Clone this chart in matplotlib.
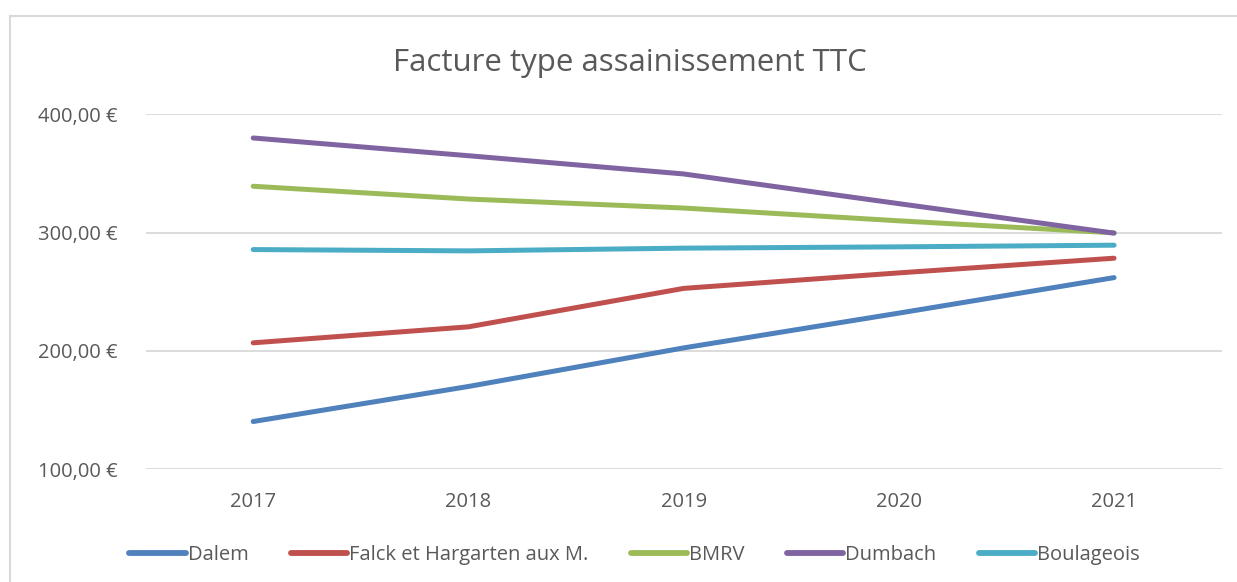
import matplotlib
matplotlib.use("Agg")
import matplotlib.pyplot as plt
from matplotlib.lines import Line2D
from matplotlib.ticker import FuncFormatter

years = ["2017", "2018", "2019", "2020", "2021"]
dalem = [140.4, 170.0, 202.6, 232.0, 262.0]
falck = [206.9, 220.4, 252.9, 266.0, 278.4]
bmrv = [339.2, 328.4, 320.8, 310.0, 299.8]
dumbach = [380.0, 365.0, 349.6, 324.5, 299.6]
boulageois = [285.7, 284.6, 286.9, 288.0, 289.4]

series_names = ["Dalem", "Falck et Hargarten aux M.", "BMRV", "Dumbach", "Boulageois"]
series_values = [dalem, falck, bmrv, dumbach, boulageois]
colors = ["#4F81BD", "#C0504D", "#9BBB59", "#8064A2", "#4BACC6"]

plt.rcParams['font.family'] = ['Open Sans', 'DejaVu Sans']
txt = "#595959"

fig = plt.figure(figsize=(12.37, 5.82), dpi=100)
ax = fig.add_axes([0.1177, 0.1936, 0.8699, 0.6100])

x = list(range(len(years)))
for name, vals, c in zip(series_names, series_values, colors):
    ax.plot(x, vals, color=c, lw=3.6, solid_capstyle='round', label=name)

ax.set_xlim(-0.5, len(years) - 0.5)
ax.set_ylim(100, 400)
ax.set_yticks([100, 200, 300, 400])
ax.yaxis.set_major_formatter(FuncFormatter(lambda v, p: f"{v:.2f}".replace(".", ",") + " €"))
ax.set_xticks(x)
ax.set_xticklabels(years)
ax.grid(axis='y', color="#D9D9D9", lw=1.3)
ax.set_axisbelow(True)
for s in ax.spines.values():
    s.set_visible(False)
ax.tick_params(length=0, colors=txt, labelsize=14.5)
ax.tick_params(axis='y', pad=20)
ax.tick_params(axis='x', pad=16)

fig.text(0.509, 0.891, "Facture type assainissement TTC", ha='center', va='center',
         fontsize=22.5, color=txt)

handles = [Line2D([0], [0], color=c, lw=4.2, solid_capstyle='round') for c in colors]
leg = fig.legend(handles, series_names, loc='center', bbox_to_anchor=(0.513, 0.047),
                 ncol=5, frameon=False, fontsize=14.5, handlelength=2.8,
                 handletextpad=0.1, columnspacing=2.1, labelcolor=txt)

# chart border (cropped at right / bottom)
fig.add_artist(Line2D([10/1237, 10/1237], [0, 1 - 16/582], color="#D9D9D9", lw=1.5,
                      transform=fig.transFigure))
fig.add_artist(Line2D([10/1237, 1], [1 - 16/582, 1 - 16/582], color="#D9D9D9", lw=1.5,
                      transform=fig.transFigure))

fig.savefig("out.png", dpi=100)
